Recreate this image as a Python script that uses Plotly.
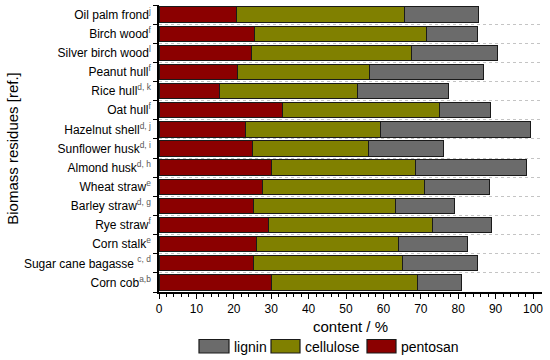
import plotly.graph_objects as go

# Categories bottom -> top
labels = ["Corn cob", "Sugar cane bagasse ", "Corn stalk", "Rye straw", "Barley straw",
          "Wheat straw", "Almond husk", "Sunflower husk", "Hazelnut shell", "Oat hull",
          "Rice hull", "Peanut hull", "Silver birch wood", "Birch wood", "Oil palm frond"]
refs = ["a,b", "c, d", "e", "f", "d, g", "e", "d, h", "d, i", "d, j", "f",
        "d, k", "f", "l", "f", "j"]
pentosan = [30.1, 25.2, 26.1, 29.3, 25.2, 27.8, 30.1, 25.1, 23.2, 33.0, 16.1, 21.0, 24.8, 25.4, 20.8]
cellulose = [38.9, 39.9, 38.0, 43.9, 38.0, 43.1, 38.5, 31.0, 35.9, 42.0, 37.1, 35.3, 42.7, 46.1, 44.9]
lignin = [11.9, 20.1, 18.5, 15.8, 15.9, 17.5, 29.6, 20.0, 40.2, 13.6, 24.2, 30.5, 22.9, 13.6, 19.6]

colors = {"pentosan": "#8b0000", "cellulose": "#808000", "lignin": "#6b6b6b"}
idx = list(range(len(labels)))
ticktext = [f"{l}<sup><span style='color:#555'>{r}</span></sup>" for l, r in zip(labels, refs)]

fig = go.Figure()
for name, vals in [("pentosan", pentosan), ("cellulose", cellulose), ("lignin", lignin)]:
    fig.add_trace(go.Bar(y=idx, x=vals, orientation="h", name=name, width=0.8,
                         marker=dict(color=colors[name], line=dict(color="#1a1a1a", width=1)),
                         showlegend=False))

font = "Liberation Sans, Arial, sans-serif"
L, R, T, B = 159, 8, 5, 68
PW, PH = 550 - L - R, 360 - T - B
fig.update_layout(
    width=550, height=360, barmode="stack", plot_bgcolor="white", paper_bgcolor="white",
    margin=dict(l=L, r=R, t=T, b=B),
    font=dict(family=font, size=12, color="black"),
    bargap=0.2,
)
fig.update_xaxes(range=[0, 102.4], tickvals=list(range(0, 101, 10)), ticks="outside",
                 ticklen=5, tickwidth=1.3, tickcolor="black", showline=True, linecolor="black",
                 linewidth=1.5, showgrid=False, zeroline=False, automargin=False,
                 minor=dict(tickvals=[v for v in range(0, 101, 2) if v % 10], ticks="outside",
                            ticklen=3, tickwidth=1, tickcolor="black"),
                 title=dict(text="content / %", font=dict(size=15), standoff=6),
                 tickfont=dict(size=12))
fig.update_yaxes(range=[-0.5, 14.5], tickvals=idx, ticktext=ticktext, ticks="",
                 showline=True, linecolor="black", linewidth=1.5, showgrid=False, zeroline=False,
                 automargin=False, ticklabelstandoff=4,
                 minor=dict(tickvals=[i - 0.5 for i in range(16)], ticks="outside", ticklen=4,
                            tickwidth=1.3, tickcolor="black", showgrid=True,
                            gridcolor="#c4c4c4", griddash="dot", gridwidth=1),
                 title=dict(text="Biomass residues [ref.]", font=dict(size=15), standoff=2),
                 tickfont=dict(size=12))

# Manual legend (large boxes as in reference), positions in pixels converted to paper coords
lx = [(199, 229, 232, "lignin"), (271, 300, 303, "cellulose"), (367, 396, 399, "pentosan")]
for x0, x1, tx, name in lx:
    fig.add_shape(type="rect", xref="paper", yref="paper",
                  x0=(x0 - L) / PW, x1=(x1 - L) / PW,
                  y0=(360 - B - 353) / PH, y1=(360 - B - 339.5) / PH,
                  fillcolor=colors[name], line=dict(color="#1a1a1a", width=1.2))
    fig.add_annotation(xref="paper", yref="paper", x=(tx - L) / PW, y=(360 - B - 346.5) / PH,
                       text=name, showarrow=False, xanchor="left", yanchor="middle",
                       font=dict(size=14))

fig.write_html("out.html", config={"displayModeBar": False},
               post_script="document.body.style.margin='0';document.body.style.overflow='hidden';")
